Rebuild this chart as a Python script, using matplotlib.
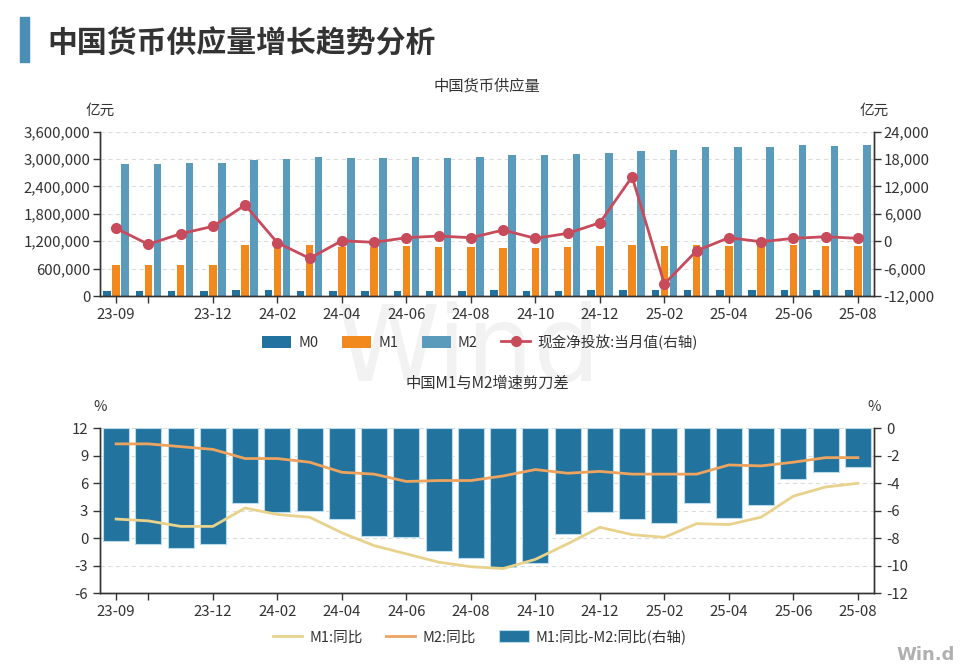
import numpy as np
import matplotlib
matplotlib.use("Agg")
import matplotlib.pyplot as plt
from matplotlib.patches import Rectangle
from matplotlib.ticker import FuncFormatter, MultipleLocator

plt.rcParams['font.family'] = ['Noto Sans CJK SC', 'DejaVu Sans']
plt.rcParams['axes.unicode_minus'] = False

# -----------------------------------------------------------------------------
# Data
# -----------------------------------------------------------------------------
months = ['23-09', '23-10', '23-11', '23-12', '24-01', '24-02', '24-03', '24-04',
          '24-05', '24-06', '24-07', '24-08', '24-09', '24-10', '24-11', '24-12',
          '25-01', '25-02', '25-03', '25-04', '25-05', '25-06', '25-07', '25-08']
tick_labels = {0: '23-09', 1: '', 3: '23-12', 5: '24-02', 7: '24-04', 9: '24-06',
               11: '24-08', 13: '24-10', 15: '24-12', 17: '25-02', 19: '25-04',
               21: '25-06', 23: '25-08'}

m0 = [109000, 108000, 109000, 113000, 127000, 121000, 117000, 116000,
      116000, 117000, 118000, 118000, 121000, 119000, 120000, 128000,
      136000, 132000, 130000, 131000, 131000, 131000, 132000, 131000]
m1 = [680000, 680000, 680000, 680000, 1117000, 1110000, 1117000, 1080000,
      1073000, 1095000, 1065000, 1065000, 1058000, 1058000, 1075000, 1100000,
      1110000, 1090000, 1115000, 1090000, 1090000, 1115000, 1100000, 1100000]
m2 = [2892000, 2883000, 2914000, 2923000, 2976000, 2992000, 3047000, 3017000,
      3020000, 3054000, 3029000, 3053000, 3095000, 3096000, 3112000, 3135000,
      3183000, 3203000, 3265000, 3257000, 3258000, 3309000, 3297000, 3310000]
cash_net = [2820, -680, 1640, 3260, 7930, -330, -3740, 110,
            -240, 770, 1140, 770, 2450, 630, 1730, 4050,
            14120, -9370, -2080, 770, -110, 630, 990, 630]

m1_yoy = [2.1, 1.9, 1.3, 1.3, 3.3, 2.6, 2.3, 0.6,
          -0.8, -1.7, -2.6, -3.1, -3.3, -2.3, -0.6, 1.2,
          0.4, 0.1, 1.6, 1.5, 2.3, 4.6, 5.6, 6.0]
m2_yoy = [10.3, 10.3, 10.0, 9.7, 8.7, 8.7, 8.3, 7.2,
          7.0, 6.2, 6.3, 6.3, 6.8, 7.5, 7.1, 7.3,
          7.0, 7.0, 7.0, 8.0, 7.9, 8.3, 8.8, 8.8]
spread = [-8.2, -8.4, -8.7, -8.4, -5.4, -6.1, -6.0, -6.6,
          -7.8, -7.9, -8.9, -9.4, -10.1, -9.8, -7.7, -6.1,
          -6.6, -6.9, -5.4, -6.5, -5.6, -3.7, -3.2, -2.8]

# -----------------------------------------------------------------------------
# Style
# -----------------------------------------------------------------------------
C_M0 = '#22729f'
C_M1 = '#f2891d'
C_M2 = '#5a9abb'
C_CASH = '#c84b5c'
C_M1Y = '#e8d28c'
C_M2Y = '#eea35e'
C_SPREAD = '#22749f'
TXT = '#333333'
GRID = '#dddddd'

x = np.arange(len(months))

fig = plt.figure(figsize=(9.6, 6.65), dpi=100)

# header
fig.patches.append(Rectangle((20 / 960, 1 - 62 / 665), 9 / 960, 45 / 665,
                             transform=fig.transFigure, color='#4a8db5'))
fig.text(47 / 960, 1 - 44 / 665, '中国货币供应量增长趋势分析', fontsize=21.5,
         fontweight='bold', color=TXT, va='center', ha='left')

# watermarks
fig.text(468 / 960, 1 - 352 / 665, 'Wind', fontsize=76, color='#f2f2f2',
         ha='center', va='center', zorder=-1, family='DejaVu Sans')
fig.text(926 / 960, 1 - 655 / 665, 'Win.d', fontsize=13, color='#b0b0b0',
         fontweight='bold', ha='center', va='center', family='DejaVu Sans')


def style_axis(ax, ax_r):
    for a in (ax, ax_r):
        a.set_facecolor('none')
        a.spines['top'].set_visible(False)
        for s in ('left', 'right', 'bottom'):
            a.spines[s].set_color(TXT)
            a.spines[s].set_linewidth(1.0)
        a.tick_params(colors=TXT, labelsize=10.8, length=5, width=1)
    ax.set_xlim(-0.5, len(months) - 0.5)
    ax.set_xticks(list(tick_labels.keys()))
    ax.set_xticklabels(list(tick_labels.values()))
    ax.yaxis.grid(True, linestyle=(0, (4, 3)), color=GRID, linewidth=0.8)
    ax.set_axisbelow(True)


# -----------------------------------------------------------------------------
# Top: money supply
# -----------------------------------------------------------------------------
ax1 = fig.add_axes([100 / 960, 1 - 296 / 665, 774 / 960, 164.3 / 665])
ax1r = ax1.twinx()
w = 0.23
ax1.bar(x - 0.28, m0, w, color=C_M0, label='M0', zorder=2)
ax1.bar(x, m1, w, color=C_M1, label='M1', zorder=2)
ax1.bar(x + 0.28, m2, w, color=C_M2, label='M2', zorder=2)
ax1r.plot(x, cash_net, color=C_CASH, lw=2, marker='o', ms=7,
          label='现金净投放:当月值(右轴)')
ax1.set_ylim(0, 3600000)
ax1.yaxis.set_major_locator(MultipleLocator(600000))
ax1r.set_ylim(-12000, 24000)
ax1r.yaxis.set_major_locator(MultipleLocator(6000))
fmt = FuncFormatter(lambda v, p: f'{v:,.0f}')
ax1.yaxis.set_major_formatter(fmt)
ax1r.yaxis.set_major_formatter(fmt)
style_axis(ax1, ax1r)
ax1.tick_params(axis='y', pad=2)
ax1r.tick_params(axis='y', pad=2)
ax1.set_title('中国货币供应量', fontsize=11, color=TXT, pad=30)
ax1.text(0, 1.13, '亿元', transform=ax1.transAxes, ha='center', va='center',
         fontsize=10.5, color=TXT)
ax1.text(1, 1.13, '亿元', transform=ax1.transAxes, ha='center', va='center',
         fontsize=10.5, color=TXT)

h1, l1 = ax1.get_legend_handles_labels()
h2, l2 = ax1r.get_legend_handles_labels()
fig.legend(h1 + h2, l1 + l2, loc='center', bbox_to_anchor=(0.5, 1 - 342 / 665),
           ncol=4, frameon=False, fontsize=10.5, labelcolor=TXT,
           handlelength=2.0, handleheight=0.9, columnspacing=1.6, handletextpad=0.5)

# -----------------------------------------------------------------------------
# Bottom: M1 / M2 scissors gap
# -----------------------------------------------------------------------------
ax2 = fig.add_axes([100 / 960, 1 - 593.3 / 665, 774 / 960, 165 / 665])
ax2r = ax2.twinx()
ax2r.bar(x, spread, 0.8, color=C_SPREAD, edgecolor='#b9dbee', linewidth=0.8,
         label='M1:同比-M2:同比(右轴)')
ax2.plot(x, m1_yoy, color=C_M1Y, lw=2, label='M1:同比')
ax2.plot(x, m2_yoy, color=C_M2Y, lw=2, label='M2:同比')
ax2.set_zorder(ax2r.get_zorder() + 1)
ax2.set_ylim(-6, 12)
ax2.yaxis.set_major_locator(MultipleLocator(3))
ax2r.set_ylim(-12, 0)
ax2r.yaxis.set_major_locator(MultipleLocator(2))
style_axis(ax2, ax2r)
ax2.yaxis.grid(False)
ax2r.yaxis.grid(True, linestyle=(0, (4, 3)), color=GRID, linewidth=0.8)
ax2r.set_axisbelow(True)
ax2.set_title('中国M1与M2增速剪刀差', fontsize=11, color=TXT, pad=29)
ax2.text(0, 1.13, '%', transform=ax2.transAxes, ha='center', va='center',
         fontsize=10.5, color=TXT)
ax2.text(1, 1.13, '%', transform=ax2.transAxes, ha='center', va='center',
         fontsize=10.5, color=TXT)

h1, l1 = ax2.get_legend_handles_labels()
h2, l2 = ax2r.get_legend_handles_labels()
fig.legend(h1 + h2, l1 + l2, loc='center', bbox_to_anchor=(0.5, 1 - 637 / 665),
           ncol=3, frameon=False, fontsize=10.5, labelcolor=TXT,
           handlelength=2.0, handleheight=0.9, columnspacing=1.6, handletextpad=0.5)

fig.savefig('out.png', dpi=100)
